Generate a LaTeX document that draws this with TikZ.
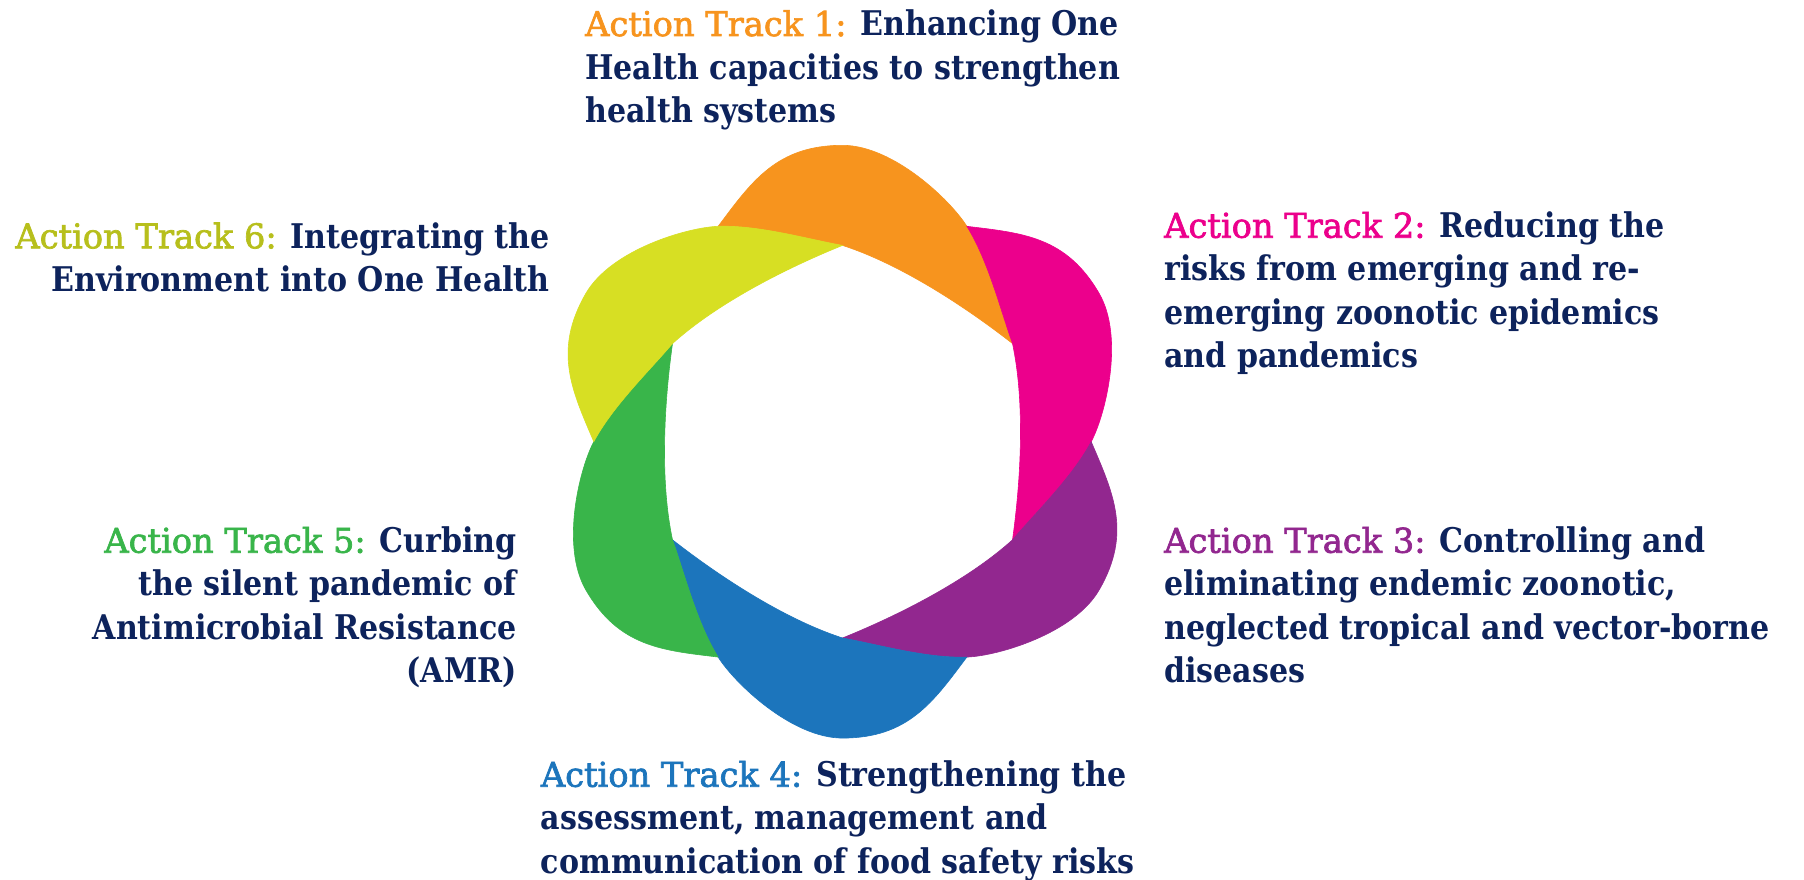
\documentclass[tikz,border=0pt]{standalone}
\usepackage{fontspec}
\setmainfont{DejaVu Serif}[BoldFeatures={FakeStretch=0.885}]
\newfontfamily\labfont{DejaVu Serif}[FakeBold=2,FakeStretch=0.99]
\definecolor{porange}{HTML}{F7941E}
\definecolor{ppink}{HTML}{EC008C}
\definecolor{ppurple}{HTML}{92278F}
\definecolor{pblue}{HTML}{1C75BC}
\definecolor{pgreen}{HTML}{39B54A}
\definecolor{pyellow}{HTML}{D7DF23}
\definecolor{lyellow}{HTML}{B7BF1C}
\definecolor{navy}{HTML}{0D235C}
\newcommand\petalfill[3]{%
  \begin{scope}[shift={(842.5,438.3)},rotate=#1,scale=1.015]
    \fill[#2,draw=#2,line width=0.6] (-122.5,212.2) .. controls (-89.5,256.2) and (-65,292) .. (0,292)
      .. controls (50,292) and (106.6,237.7) .. (122.5,212.2)
      .. controls (143.7,178.2) and (155.6,129.6) .. (167.5,96.7)
      .. controls (120.2,133.6) and (57,174.9) .. (0,193.4)
      .. controls (-34.4,199.6) and (-82.5,213.5) .. cycle;
    \coordinate (#3) at (0,292);
  \end{scope}}
\newcommand\lab[2]{{\labfont\mdseries\color{#1}#2}}
\tikzset{
  lt/.style={anchor=base west,inner sep=0pt,text=navy,font=\fontsize{34}{43.4}\selectfont\bfseries},
  rt/.style={anchor=base east,inner sep=0pt,text=navy,font=\fontsize{34}{43.4}\selectfont\bfseries}
}
\begin{document}
\begin{tikzpicture}[x=1pt,y=1pt]
\useasboundingbox (0,0) rectangle (1804,880);
\fill[white] (0,0) rectangle (1804,880);
\petalfill{0}{porange}{p1}
\petalfill{-60}{ppink}{p2}
\petalfill{-120}{ppurple}{p3}
\petalfill{180}{pblue}{p4}
\petalfill{120}{pgreen}{p5}
\petalfill{60}{pyellow}{p6}
% Track 1
\node[lt] (t1a) at (585,844) {\lab{porange}{Action Track 1:} Enhancing One};
\node[lt] (t1b) at (585,800.6) {Health capacities to strengthen};
\node[lt] (t1c) at (585,757.2) {health systems};
% Track 2
\node[lt] (t2a) at (1164,642.3) {\lab{ppink}{Action Track 2:} Reducing the};
\node[lt] (t2b) at (1164,599.1) {risks from emerging and re-};
\node[lt] (t2c) at (1164,555.9) {emerging zoonotic epidemics};
\node[lt] (t2d) at (1164,512.7) {and pandemics};
% Track 3
\node[lt] (t3a) at (1164,327.3) {\lab{ppurple}{Action Track 3:} Controlling and};
\node[lt] (t3b) at (1164,284.1) {eliminating endemic zoonotic,};
\node[lt] (t3c) at (1164,240.9) {neglected tropical and vector-borne};
\node[lt] (t3d) at (1164,197.7) {diseases};
% Track 4
\node[lt] (t4a) at (540.7,93.3) {\lab{pblue}{Action Track 4:} Strengthening the};
\node[lt] (t4b) at (540.7,50) {assessment, management and};
\node[lt] (t4c) at (540.7,6.7) {communication of food safety risks};
% Track 5
\node[rt] (t5a) at (517,327.3) {\lab{pgreen}{Action Track 5:} Curbing};
\node[rt] (t5b) at (517,284.1) {the silent pandemic of};
\node[rt] (t5c) at (517,240.9) {Antimicrobial Resistance};
\node[rt] (t5d) at (517,197.7) {(AMR)};
% Track 6
\node[rt] (t6a) at (550,631.7) {\lab{lyellow}{Action Track 6:} Integrating the};
\node[rt] (t6b) at (550,588.3) {Environment into One Health};
\end{tikzpicture}
\end{document}
